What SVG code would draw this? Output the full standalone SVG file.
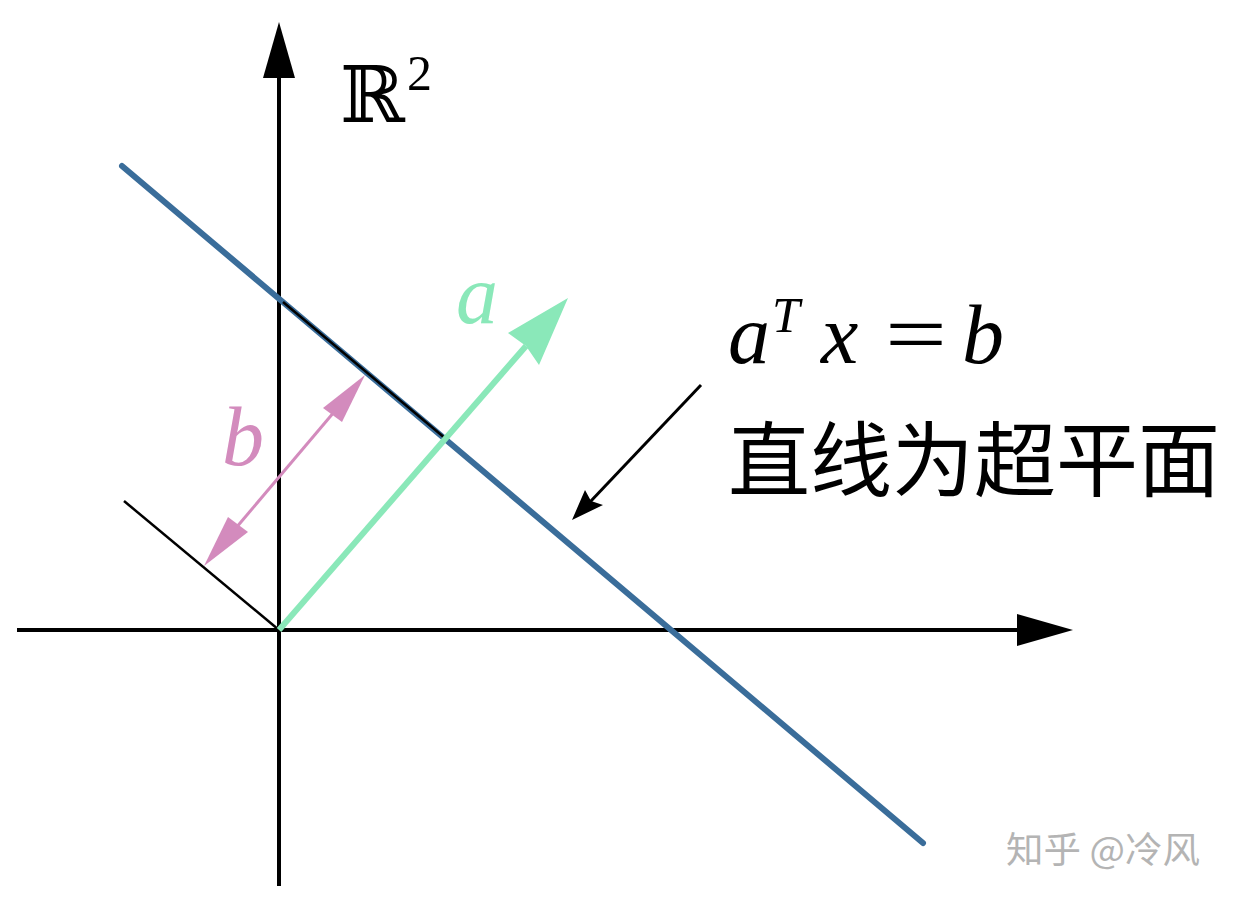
<svg xmlns="http://www.w3.org/2000/svg" width="1233" height="901" viewBox="0 0 1233 901">
  <style>
    .axis { stroke: #000; stroke-width: 4; fill: none; }
    .thin { stroke: #000; stroke-width: 2.5; fill: none; }
    .math { font-family: "Liberation Serif", "Times New Roman", serif; font-style: italic; }
    .cjk { font-family: "Noto Sans CJK SC", sans-serif; }
  </style>
  <rect width="1233" height="901" fill="#fff"/>
  <g id="connectors">
    <g id="y-axis">
      <line class="axis" x1="279" y1="886" x2="279" y2="76"/>
      <polygon points="279,22 263,78 295,78" fill="#000"/>
    </g>
    <g id="x-axis">
      <line class="axis" x1="17" y1="630" x2="1019" y2="630"/>
      <polygon points="1073,630 1017,614 1017,646" fill="#000"/>
    </g>
    <g id="hyperplane">
      <line x1="122" y1="166" x2="923" y2="843" stroke="#3a6d9a" stroke-width="6" stroke-linecap="round"/>
      <line class="thin" x1="283" y1="302" x2="446" y2="439"/>
    </g>
    <g id="parallel-through-origin">
      <line class="thin" x1="124" y1="501" x2="279" y2="630"/>
    </g>
    <g id="vector-a">
      <line x1="279" y1="630" x2="526" y2="346" stroke="#8ae8b9" stroke-width="6"/>
      <polygon points="568,298 508,333 526,346 539,365" fill="#8ae8b9"/>
    </g>
    <g id="distance-b">
      <line x1="230" y1="535" x2="340" y2="405" stroke="#d38bbd" stroke-width="3"/>
      <polygon points="365,375 323,408 342,422" fill="#d38bbd"/>
      <polygon points="204,566 228,517 248,532" fill="#d38bbd"/>
    </g>
    <g id="pointer">
      <line x1="701" y1="385" x2="590" y2="502" stroke="#000" stroke-width="3"/>
      <polygon points="572,520 585,490 591,501 603,505" fill="#000"/>
    </g>
  </g>
  <g id="label-R2">
    <text x="340" y="122" font-family="DejaVu Serif, DejaVu Sans, serif" font-size="78">ℝ</text>
    <text x="407" y="90" font-family="Liberation Serif, serif" font-size="50">2</text>
  </g>
  <g id="label-a">
    <text class="math" x="456" y="323" font-size="84" fill="#8ae8b9">a</text>
  </g>
  <g id="label-b">
    <text class="math" x="222" y="465" font-size="84" fill="#d38bbd">b</text>
  </g>
  <g id="label-equation">
    <text class="math" x="728" y="363" font-size="84">a</text>
    <text class="math" x="772" y="332" font-size="50">T</text>
    <text class="math" x="821" y="363" font-size="84">x</text>
    <text x="885" y="363" font-family="Liberation Serif, serif" font-size="84" textLength="62" lengthAdjust="spacingAndGlyphs">=</text>
    <text class="math" x="962" y="363" font-size="84">b</text>
  </g>
  <g id="label-hyperplane">
    <text class="cjk" x="728" y="490" font-size="82" textLength="492" lengthAdjust="spacingAndGlyphs">直线为超平面</text>
  </g>
  <g id="watermark">
    <text class="cjk" x="1006" y="863" font-size="36" fill="#b4b4b4" textLength="194" lengthAdjust="spacingAndGlyphs">知乎 @冷风</text>
  </g>
</svg>
